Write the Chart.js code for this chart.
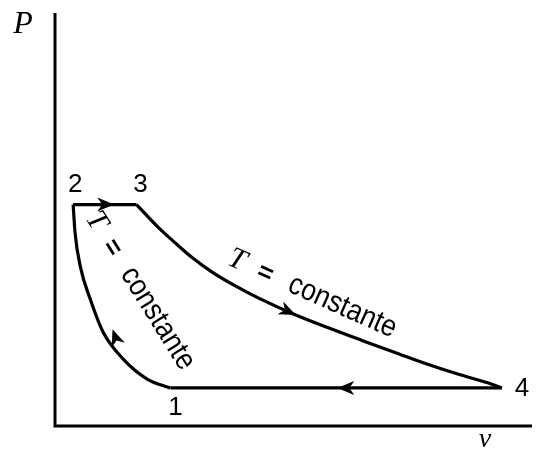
<!DOCTYPE html>
<html>
<head>
<meta charset="utf-8">
<script src="https://cdn.jsdelivr.net/npm/chart.js@4/dist/chart.umd.min.js"></script>
<style>
html,body{margin:0;padding:0;background:#fff;}
#wrap{width:536px;height:452px;position:relative;}
</style>
</head>
<body>
<div id="wrap"><canvas id="c"></canvas></div>
<script>
// Cycle data (v, P) in arbitrary units
const v12 = [24.2, 19.4, 14.3, 10.1, 7.4, 5.3, 4.2, 3.8];
const P12 = [9.0, 11.1, 16.0, 22.5, 30.5, 38.5, 46.7, 53.5];
const v23 = [3.8, 17.1];
const P23 = [53.5, 53.5];
const v34 = [17.1, 21.7, 25.3, 28.8, 33.1, 37.9, 42.7, 50.1, 57.3, 64.2, 72.0, 77.5, 84.6, 91.6, 93.7];
const P34 = [53.5, 47.9, 44.1, 40.6, 37.0, 33.7, 30.8, 26.9, 23.6, 20.6, 17.3, 15.0, 12.3, 9.9, 9.0];
const v41 = [93.7, 24.2];
const P41 = [9.0, 9.0];

// Point labels
const pointLabels = ['1', '2', '3', '4'];
const pointV = [24.2, 3.8, 17.1, 93.7];
const pointP = [9.0, 53.5, 53.5, 9.0];

// Arrows: tip and a point behind it along the path
const arrowTipV = [12.0, 50.1, 59.6, 12.2];
const arrowTipP = [53.5, 26.9, 9.0, 22.8];
const arrowFromV = [10.0, 42.7, 62.0, 14.3];
const arrowFromP = [53.5, 30.8, 9.0, 16.0];

const axisLabels = ['P', 'v'];
const curveLabel = ['T', '=', 'constante'];

const toXY = (vs, ps) => vs.map((v, i) => ({x: v, y: ps[i]}));

const ds = (vs, ps, curved) => ({
  data: toXY(vs, ps),
  borderColor: '#000',
  borderWidth: 3.2,
  pointRadius: 0,
  tension: curved ? 0.4 : 0,
  cubicInterpolationMode: curved ? 'monotone' : 'default',
  fill: false,
  clip: false
});

const deco = {
  id: 'deco',
  afterDatasetsDraw(chart) {
    const ctx = chart.ctx;
    const xs = chart.scales.x, ys = chart.scales.y;
    const ca = chart.chartArea;
    ctx.save();
    // axes
    ctx.strokeStyle = '#000';
    ctx.lineWidth = 3;
    ctx.beginPath();
    ctx.moveTo(ca.left, ca.top);
    ctx.lineTo(ca.left, ca.bottom + 1);
    ctx.lineTo(ca.right, ca.bottom + 1);
    ctx.stroke();

    // arrows
    ctx.fillStyle = '#000';
    for (let i = 0; i < arrowTipV.length; i++) {
      const tx = xs.getPixelForValue(arrowTipV[i]), ty = ys.getPixelForValue(arrowTipP[i]);
      const fx = xs.getPixelForValue(arrowFromV[i]), fy = ys.getPixelForValue(arrowFromP[i]);
      const a = Math.atan2(ty - fy, tx - fx);
      ctx.save();
      ctx.translate(tx, ty);
      ctx.rotate(a);
      ctx.beginPath();
      ctx.moveTo(2, 0);
      ctx.lineTo(-15, -7);
      ctx.lineTo(-10, 0);
      ctx.lineTo(-15, 7);
      ctx.closePath();
      ctx.fill();
      ctx.restore();
    }

    // point labels
    const offs = [[5, 20], [2, -20], [4, -20], [20, 1]];
    ctx.font = '26px "Liberation Sans", Arial, sans-serif';
    ctx.textAlign = 'center';
    ctx.textBaseline = 'middle';
    for (let i = 0; i < pointLabels.length; i++) {
      const px = xs.getPixelForValue(pointV[i]), py = ys.getPixelForValue(pointP[i]);
      ctx.fillText(pointLabels[i], px + offs[i][0], py + offs[i][1]);
    }

    // axis labels
    ctx.font = 'italic 32px "Liberation Serif", "Times New Roman", serif';
    ctx.fillText(axisLabels[0], 23, 25);
    ctx.font = 'italic 28px "Liberation Serif", "Times New Roman", serif';
    ctx.fillText(axisLabels[1], 485, 440);

    // rotated curve labels
    const drawLabel = (x, y, deg) => {
      ctx.save();
      ctx.translate(x, y);
      ctx.rotate(deg * Math.PI / 180);
      ctx.textAlign = 'left';
      ctx.textBaseline = 'alphabetic';
      ctx.font = 'italic 30px "Liberation Serif", serif';
      ctx.fillText(curveLabel[0], 0, 0);
      ctx.font = 'bold 26px "Liberation Sans", sans-serif';
      ctx.fillText(curveLabel[1], 32, 0);
      ctx.save();
      ctx.translate(66, 0);
      ctx.scale(0.95, 1.08);
      ctx.font = '28px "Liberation Sans", sans-serif';
      ctx.fillText(curveLabel[2], 0, 0);
      ctx.restore();
      ctx.restore();
    };
    drawLabel(226, 264, 24);
    drawLabel(85, 218, 58);
    ctx.restore();
  }
};

new Chart(document.getElementById('c'), {
  type: 'line',
  data: {
    datasets: [
      ds(v12, P12, true),
      ds(v23, P23, false),
      ds(v34, P34, true),
      ds(v41, P41, false)
    ]
  },
  options: {
    responsive: true,
    maintainAspectRatio: false,
    animation: false,
    devicePixelRatio: 1,
    layout: {padding: {left: 55, top: 13, right: 4, bottom: 27}},
    plugins: {legend: {display: false}, tooltip: {enabled: false}},
    scales: {
      x: {type: 'linear', min: 0, max: 100, display: false},
      y: {type: 'linear', min: 0, max: 100, display: false}
    }
  },
  plugins: [deco]
});
</script>
</body>
</html>
